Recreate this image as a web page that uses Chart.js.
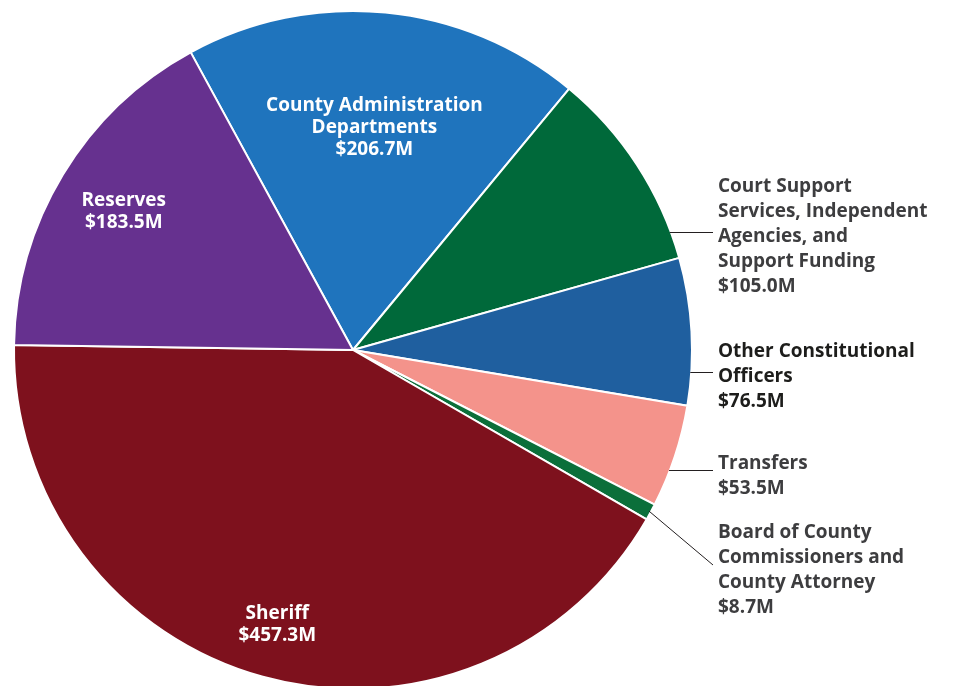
<!DOCTYPE html>
<html>
<head>
<meta charset="utf-8">
<title>General Fund Budget</title>
<script src="https://cdn.jsdelivr.net/npm/chart.js@4.4.0/dist/chart.umd.min.js"></script>
<style>
  html, body { margin: 0; padding: 0; background: #fff; overflow: hidden; }
  #wrap { position: relative; width: 955px; height: 700px; }
</style>
</head>
<body>
<div id="wrap"><canvas id="budgetPie"></canvas></div>
<script>
// Budget by area, in millions of dollars
const categories = [
  'County Administration Departments',
  'Court Support Services, Independent Agencies, and Support Funding',
  'Other Constitutional Officers',
  'Transfers',
  'Board of County Commissioners and County Attorney',
  'Sheriff',
  'Reserves'
];
const labelLines = [
  ['County Administration', 'Departments'],
  ['Court Support', 'Services, Independent', 'Agencies, and', 'Support Funding'],
  ['Other Constitutional', 'Officers'],
  ['Transfers'],
  ['Board of County', 'Commissioners and', 'County Attorney'],
  ['Sheriff'],
  ['Reserves']
];
const budgetValues = [206.7, 105.0, 76.5, 53.5, 8.7, 457.3, 183.5];
const sliceColors = ['#1f74bd', '#00693a', '#1f5f9f', '#f4938b', '#0b6f3a', '#7e111d', '#66318f'];

const FONT = '"Open Sans", Lato, sans-serif';
const money = v => '$' + v.toFixed(1) + 'M';

// inside labels sit along the slice's middle angle; the rest go in a column on the right
const labelPlacement = [
  { inside: true, frac: 0.66 },
  { x: 718, y: 187, leaderY: 232 },
  { x: 718, y: 352, leaderY: 372, color: '#1d1d1b' },
  { x: 718, y: 464, leaderY: 470 },
  { x: 718, y: 533, leaderTo: [713, 565] },
  { inside: true, frac: 0.84 },
  { inside: true, frac: 0.79 }
];

const sliceLabels = {
  id: 'sliceLabels',
  afterDatasetsDraw(chart) {
    const ctx = chart.ctx;
    const arcs = chart.getDatasetMeta(0).data;
    ctx.save();
    ctx.font = 'bold 19px ' + FONT;
    ctx.textBaseline = 'middle';
    arcs.forEach((arc, i) => {
      const p = labelPlacement[i];
      const lines = labelLines[i].concat(money(budgetValues[i]));
      const { x: cx, y: cy, outerRadius: R, startAngle, endAngle } =
        arc.getProps(['x', 'y', 'outerRadius', 'startAngle', 'endAngle'], true);
      const mid = (startAngle + endAngle) / 2;

      if (p.inside) {
        const lx = cx + Math.cos(mid) * R * p.frac;
        const ly = cy + Math.sin(mid) * R * p.frac;
        ctx.fillStyle = '#ffffff';
        ctx.textAlign = 'center';
        lines.forEach((t, k) => ctx.fillText(t, lx, ly + (k - (lines.length - 1) / 2) * 22));
        return;
      }

      // leader line from the slice edge to the label
      ctx.strokeStyle = '#231f20';
      ctx.lineWidth = 1;
      ctx.beginPath();
      if (p.leaderY !== undefined) {
        const dy = p.leaderY - cy;
        const ex = cx + Math.sqrt(R * R - dy * dy);
        ctx.moveTo(ex - 1, p.leaderY + 0.5);
        ctx.lineTo(p.x - 5, p.leaderY + 0.5);
      } else {
        ctx.moveTo(cx + Math.cos(mid) * (R - 2), cy + Math.sin(mid) * (R - 2));
        ctx.lineTo(p.leaderTo[0], p.leaderTo[1]);
      }
      ctx.stroke();

      ctx.fillStyle = p.color || '#3d3d3f';
      ctx.textAlign = 'left';
      lines.forEach((t, k) => ctx.fillText(t, p.x, p.y + k * 25));
    });
    ctx.restore();
  }
};

new Chart(document.getElementById('budgetPie'), {
  type: 'pie',
  data: {
    labels: categories,
    datasets: [{
      data: budgetValues,
      backgroundColor: sliceColors,
      borderColor: '#ffffff',
      borderWidth: 2
    }]
  },
  options: {
    responsive: true,
    maintainAspectRatio: false,
    animation: false,
    rotation: -28.6,
    layout: { padding: { left: 13, top: 10, right: 262, bottom: 10 } },
    plugins: {
      legend: { display: false },
      tooltip: { enabled: false }
    }
  },
  plugins: [sliceLabels]
});
</script>
</body>
</html>
